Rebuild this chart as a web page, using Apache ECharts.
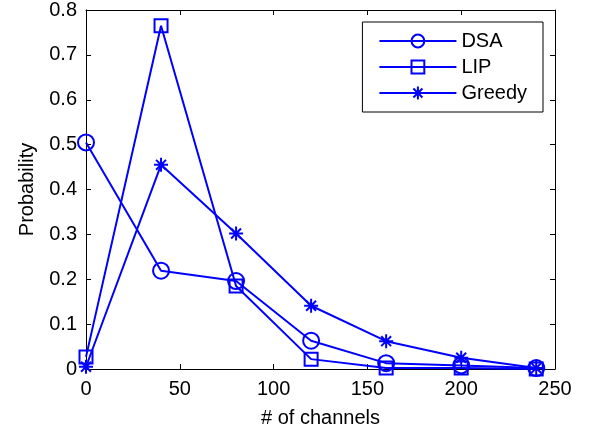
<!DOCTYPE html>
<html>
<head>
<meta charset="utf-8">
<script src="https://cdn.jsdelivr.net/npm/echarts@6/dist/echarts.min.js"></script>
<style>
html, body { margin: 0; padding: 0; background: #fff; }
#main { width: 589px; height: 434px; }
</style>
</head>
<body>
<div id="main"></div>
<script>
var channels = [0, 40, 80, 120, 160, 200, 240];
var dsa = [0.505, 0.219, 0.196, 0.063, 0.013, 0.008, 0.002];
var lip = [0.027, 0.765, 0.185, 0.022, 0.002, 0.002, 0.0];
var greedy = [0.005, 0.455, 0.302, 0.141, 0.062, 0.025, 0.002];

var blue = '#0000ff';
var font = 'Liberation Sans, Arial, sans-serif';
var star = 'path://M0,-1L0,1M-1,0L1,0M-0.7071,-0.7071L0.7071,0.7071M-0.7071,0.7071L0.7071,-0.7071';

function pairs(ys) {
    return channels.map(function (x, i) { return [x, ys[i]]; });
}

function makeSeries(name, ys, symbol, size) {
    return {
        name: name,
        type: 'line',
        data: pairs(ys),
        symbol: symbol,
        symbolSize: size,
        showAllSymbol: true,
        clip: false,
        lineStyle: { color: blue, width: 2 },
        itemStyle: { color: 'rgba(0,0,0,0)', borderColor: blue, borderWidth: 2 },
        emphasis: { disabled: true }
    };
}

var tick = { show: true, inside: true, length: 5, lineStyle: { color: '#000', width: 1 } };
var line = { show: true, onZero: false, lineStyle: { color: '#000', width: 1 } };

var myChart = echarts.init(document.getElementById('main'));
myChart.setOption({
    animation: false,
    textStyle: { fontFamily: font },
    grid: { left: 86, right: 34, top: 10, bottom: 65 },
    legend: {
        right: 46,
        top: 22,
        orient: 'vertical',
        itemWidth: 77,
        itemHeight: 16,
        itemGap: 6,
        padding: [9, 16, 9, 16],
        borderColor: '#000',
        borderWidth: 1,
        borderRadius: 0,
        backgroundColor: '#fff',
        textStyle: { fontSize: 20, color: '#000', fontFamily: font },
        data: ['DSA', 'LIP', 'Greedy']
    },
    xAxis: [{
        type: 'value',
        min: 0,
        max: 250,
        interval: 50,
        name: '# of channels',
        nameLocation: 'middle',
        nameGap: 39,
        nameTextStyle: { fontSize: 20, color: '#000' },
        axisLine: line,
        axisTick: tick,
        axisLabel: { fontSize: 20, color: '#000', margin: 10 },
        splitLine: { show: false }
    }, {
        type: 'value',
        position: 'top',
        min: 0,
        max: 250,
        interval: 50,
        axisLine: line,
        axisTick: tick,
        axisLabel: { show: false },
        splitLine: { show: false }
    }],
    yAxis: [{
        type: 'value',
        position: 'left',
        min: 0,
        max: 0.8,
        interval: 0.1,
        name: 'Probability',
        nameLocation: 'middle',
        nameGap: 49,
        nameTextStyle: { fontSize: 20, color: '#000' },
        axisLine: line,
        axisTick: tick,
        axisLabel: {
            fontSize: 20, color: '#000', margin: 9,
            formatter: function (v) { return String(parseFloat(v.toFixed(1))); }
        },
        splitLine: { show: false }
    }, {
        type: 'value',
        position: 'right',
        min: 0,
        max: 0.8,
        interval: 0.1,
        axisLine: line,
        axisTick: tick,
        axisLabel: { show: false },
        splitLine: { show: false }
    }],
    series: [
        makeSeries('DSA', dsa, 'circle', 16),
        makeSeries('LIP', lip, 'rect', 13),
        makeSeries('Greedy', greedy, star, 14)
    ]
});
</script>
</body>
</html>
